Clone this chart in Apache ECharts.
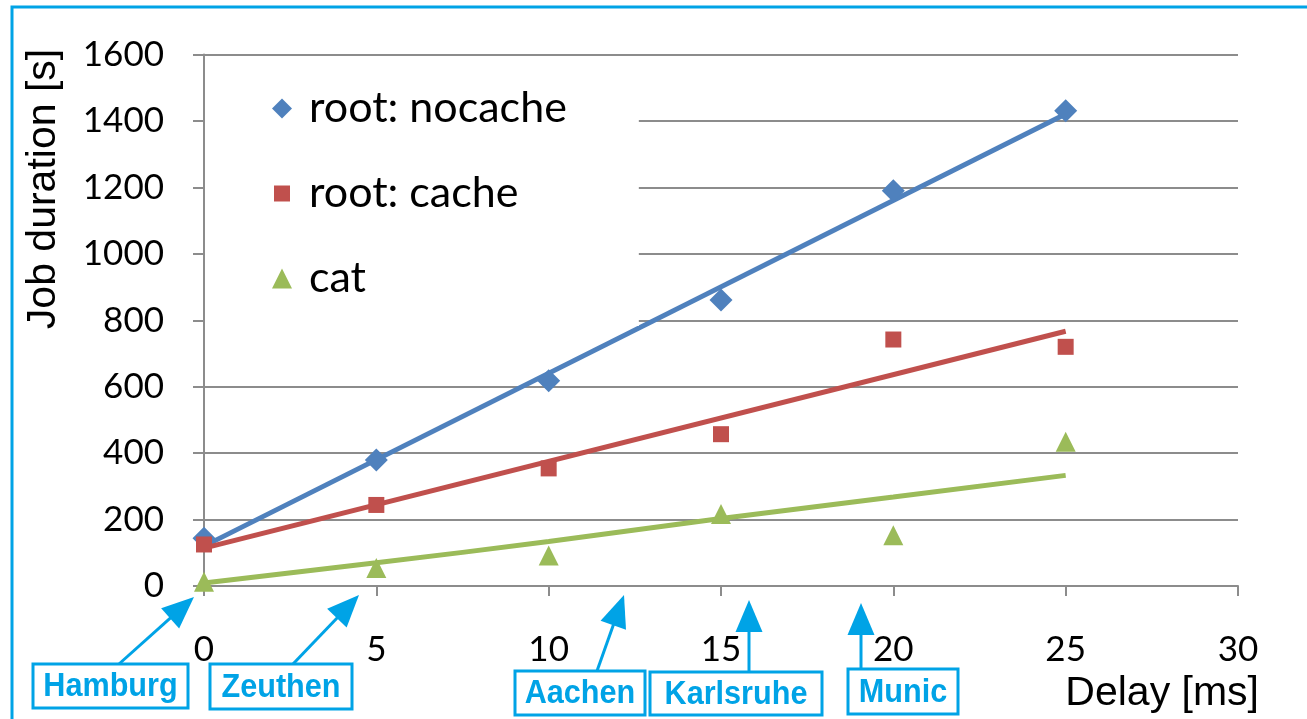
<!DOCTYPE html>
<html>
<head>
<meta charset="utf-8">
<script src="https://cdn.jsdelivr.net/npm/echarts@6/dist/echarts.min.js"></script>
<style>
  html, body { margin: 0; padding: 0; background: #fff; }
  #chart { width: 1307px; height: 719px; }
</style>
</head>
<body>
<div id="chart"></div>
<script>
// measured job duration [s] per delay [ms]
const delays = [0, 5, 10, 15, 20, 25]
const nocache = [144, 379, 618, 861, 1190, 1431]
const cache = [125, 244, 354, 457, 742, 720]
const cat = [13, 54, 92, 217, 153, 434]

// trend lines
const trendX = [0, 25]
const nocacheTrend = [120, 1421]
const cacheTrend = [114, 767]
const catTrend = [9, 70, 134, 203, 268, 333]

// sites marked under the delay axis
const sites = ['Hamburg', 'Zeuthen', 'Aachen', 'Karlsruhe', 'Munic']

const BLUE = '#00a3e6'
const GRAY = '#8c8c8c'

function pairs(xs, ys) {
  return xs.map((x, i) => [x, ys[i]])
}

// arrow: shaft + filled head, tail -> tip
function arrow(tail, tip) {
  const dx = tip[0] - tail[0]
  const dy = tip[1] - tail[1]
  const len = Math.sqrt(dx * dx + dy * dy)
  const ux = dx / len
  const uy = dy / len
  const headLen = 32
  const half = 13.5
  const bx = tip[0] - ux * headLen
  const by = tip[1] - uy * headLen
  return [
    {
      type: 'line',
      shape: { x1: tail[0], y1: tail[1], x2: bx + ux * 2, y2: by + uy * 2 },
      style: { stroke: BLUE, lineWidth: 3 }
    },
    {
      type: 'polygon',
      shape: { points: [tip, [bx - uy * half, by + ux * half], [bx + uy * half, by - ux * half]] },
      style: { fill: BLUE }
    }
  ]
}

function box(text, x, y, w, h) {
  return [
    {
      type: 'rect',
      shape: { x, y, width: w, height: h },
      style: { fill: '#fff', stroke: BLUE, lineWidth: 3 }
    },
    {
      type: 'text',
      x: x + w / 2,
      y: y + h / 2 + 1,
      scaleX: 0.9,
      style: {
        text,
        fill: BLUE,
        font: 'bold 34px "Liberation Sans", Arial, sans-serif',
        align: 'center',
        verticalAlign: 'middle'
      }
    }
  ]
}

const myChart = echarts.init(document.getElementById('chart'))

const option = {
  animation: false,
  backgroundColor: '#fff',
  grid: {
    left: 204,
    right: 69,
    top: 54.5,
    bottom: 133,
    containLabel: false
  },
  legend: {
    orient: 'vertical',
    left: 205,
    top: 56,
    backgroundColor: '#fff',
    padding: [31, 72, 26, 65],
    itemWidth: 20,
    itemHeight: 20,
    itemGap: 42,
    selectedMode: false,
    textStyle: {
      fontFamily: 'Lato',
      fontSize: 43,
      color: '#000',
      lineHeight: 40,
      padding: [0, 0, 0, 12]
    },
    data: [
      { name: 'root: nocache', icon: 'diamond' },
      { name: 'root: cache', icon: 'rect', itemStyle: { borderColor: '#fff', borderWidth: 4 } },
      { name: 'cat', icon: 'triangle' }
    ]
  },
  xAxis: {
    type: 'value',
    min: 0,
    max: 30,
    interval: 5,
    axisLine: { show: true, lineStyle: { color: GRAY, width: 2 } },
    axisTick: { show: true, length: 10, lineStyle: { color: GRAY, width: 2 } },
    splitLine: { show: false },
    axisLabel: { margin: 46, color: '#000', fontFamily: 'Lato', fontSize: 35 }
  },
  yAxis: {
    type: 'value',
    min: 0,
    max: 1600,
    interval: 200,
    axisLine: { show: true, lineStyle: { color: GRAY, width: 2 } },
    axisTick: { show: true, length: 11, lineStyle: { color: GRAY, width: 2 } },
    splitLine: { show: true, lineStyle: { color: GRAY, width: 2 } },
    axisLabel: {
      margin: 40,
      color: '#000',
      fontFamily: 'Lato',
      fontSize: 35,
      formatter: v => String(v)
    }
  },
  series: [
    {
      name: 'root: nocache trend',
      type: 'line',
      data: pairs(trendX, nocacheTrend),
      showSymbol: false,
      lineStyle: { color: '#4f81bd', width: 5 },
      z: 2
    },
    {
      name: 'root: cache trend',
      type: 'line',
      data: pairs(trendX, cacheTrend),
      showSymbol: false,
      lineStyle: { color: '#c0504d', width: 5 },
      z: 2
    },
    {
      name: 'cat trend',
      type: 'line',
      data: pairs(delays, catTrend),
      smooth: true,
      showSymbol: false,
      lineStyle: { color: '#9bbb59', width: 5 },
      z: 2
    },
    {
      name: 'root: nocache',
      type: 'scatter',
      symbol: 'diamond',
      symbolSize: 23,
      data: pairs(delays, nocache),
      itemStyle: { color: '#4f81bd', opacity: 1 },
      z: 3
    },
    {
      name: 'root: cache',
      type: 'scatter',
      symbol: 'rect',
      symbolSize: 16,
      data: pairs(delays, cache),
      itemStyle: { color: '#c0504d', opacity: 1 },
      z: 3
    },
    {
      name: 'cat',
      type: 'scatter',
      symbol: 'triangle',
      symbolSize: 20,
      data: pairs(delays, cat),
      itemStyle: { color: '#9bbb59', opacity: 1 },
      z: 3
    }
  ],
  graphic: [
    // outer frame
    {
      type: 'rect',
      shape: { x: 12, y: 7, width: 1400, height: 800 },
      style: { fill: null, stroke: BLUE, lineWidth: 3 },
      silent: true
    },
    {
      type: 'text',
      x: 44,
      y: 189,
      rotation: Math.PI / 2,
      style: {
        text: 'Job duration [s]',
        fill: '#000',
        font: '41px "Liberation Sans", Arial, sans-serif',
        align: 'center',
        verticalAlign: 'middle'
      }
    },
    {
      type: 'text',
      x: 1259,
      y: 694,
      style: {
        text: 'Delay [ms]',
        fill: '#000',
        font: '41px "Liberation Sans", Arial, sans-serif',
        align: 'right',
        verticalAlign: 'middle'
      }
    },
    ...arrow([119, 664], [194, 597]),
    ...arrow([293, 664], [359, 595]),
    ...arrow([597, 671], [624, 595]),
    ...arrow([749, 672], [749, 600]),
    ...arrow([861, 669], [861, 603]),
    ...box(sites[0], 33, 664, 155, 44),
    ...box(sites[1], 210, 664, 142, 45),
    ...box(sites[2], 515, 671, 130, 44),
    ...box(sites[3], 650, 672, 172, 43),
    ...box(sites[4], 848, 669, 110, 45)
  ]
}

myChart.setOption(option)
</script>
</body>
</html>
